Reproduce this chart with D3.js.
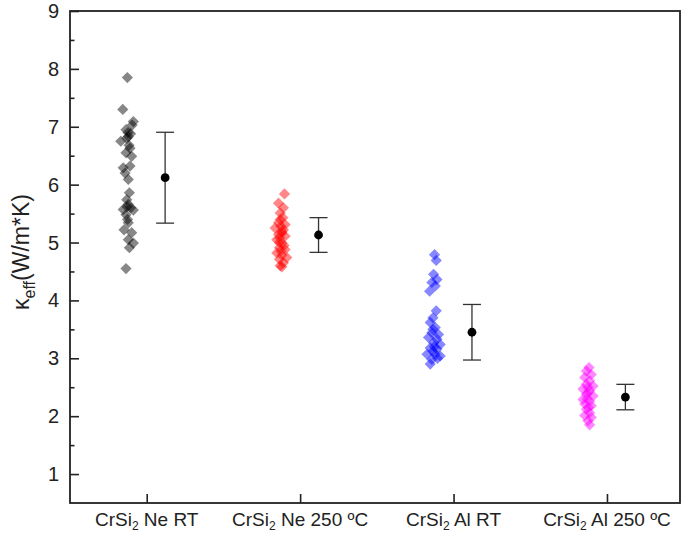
<!DOCTYPE html>
<html><head><meta charset="utf-8">
<script src="https://cdn.jsdelivr.net/npm/d3@7"></script>
<style>body{margin:0;background:#fff}svg{display:block}</style>
</head><body>
<svg id="c" width="685" height="536"></svg>
<script>
// categories (label parts: prefix, subscript, suffix)
const categories = [
  ["CrSi","2"," Ne RT"],
  ["CrSi","2"," Ne 250 ºC"],
  ["CrSi","2"," Al RT"],
  ["CrSi","2"," Al 250 ºC"]
];
const yTicks = [1,2,3,4,5,6,7,8,9];
const seriesColors = ["#000000","#ff0000","#0000ff","#ff00ff"];
// individual measurements: x (category index + jitter), y (kappa)
const neRT_x = [0.874,0.844,0.913,0.905,0.865,0.895,0.880,0.870,0.831,0.885,0.891,0.865,0.902,0.891,0.847,0.859,0.880,0.887,0.870,0.880,0.895,0.847,0.913,0.865,0.875,0.880,0.852,0.902,0.880,0.913,0.887,0.865,0.878,0.872];
const neRT_y = [7.85,7.30,7.09,7.03,6.95,6.88,6.83,6.80,6.75,6.68,6.63,6.55,6.49,6.32,6.29,6.20,6.09,5.86,5.74,5.66,5.60,5.57,5.56,5.48,5.40,5.34,5.22,5.17,5.05,4.99,4.91,4.55,6.90,5.62];
const ne250_x = [1.898,1.859,1.891,1.870,1.887,1.859,1.902,1.837,1.881,1.859,1.902,1.848,1.881,1.865,1.902,1.848,1.881,1.913,1.865,1.891,1.870,1.881,1.870,1.891,1.865,1.895,1.875,1.875,1.880,1.868];
const ne250_y = [5.84,5.68,5.60,5.51,5.43,5.34,5.31,5.25,5.19,5.14,5.11,5.05,4.99,4.91,4.88,4.82,4.78,4.74,4.71,4.65,4.60,4.58,5.40,5.22,5.00,4.95,5.28,4.85,5.16,5.08];
const alRT_x = [2.876,2.887,2.870,2.892,2.859,2.881,2.844,2.887,2.866,2.848,2.881,2.859,2.902,2.837,2.892,2.870,2.913,2.848,2.892,2.827,2.881,2.913,2.859,2.848,2.875,2.865,2.895,2.865];
const alRT_y = [4.79,4.69,4.45,4.36,4.31,4.25,4.16,3.82,3.70,3.62,3.53,3.44,3.41,3.36,3.33,3.27,3.24,3.18,3.16,3.07,3.07,3.04,2.98,2.90,3.20,3.12,3.00,3.50];
const al250_x = [3.883,3.866,3.898,3.855,3.887,3.866,3.909,3.844,3.887,3.866,3.909,3.844,3.887,3.855,3.898,3.866,3.887,3.855,3.898,3.876,3.887,3.876,3.870,3.880,3.876];
const al250_y = [2.84,2.78,2.72,2.67,2.61,2.55,2.52,2.47,2.44,2.38,2.35,2.29,2.26,2.21,2.18,2.12,2.06,2.01,1.98,1.92,1.85,2.40,2.30,2.15,2.50];
// summary: mean and error, plotted at category index + offset
const meanX = [1.12,2.12,3.12,4.12];
const means = [6.12,5.13,3.45,2.33];
const errs  = [0.785,0.30,0.48,0.22];

const series = [[neRT_x,neRT_y],[ne250_x,ne250_y],[alRT_x,alRT_y],[al250_x,al250_y]];

const svg = d3.select("#c");
const L=70, R=680, T=11, B=503;
const x = d3.scaleLinear().domain([0.5,4.476]).range([L,R]);
const y = d3.scaleLinear().domain([0.5,9]).range([B,T]);
const font = "'Liberation Sans', Arial, sans-serif";

// points
const diamond = "M0,-5.6L5.6,0L0,5.6L-5.6,0Z";
series.forEach((s,i)=>{
  svg.append("g").selectAll("path").data(d3.range(s[0].length)).join("path")
    .attr("d",diamond)
    .attr("transform",k=>`translate(${x(s[0][k])},${y(s[1][k])})`)
    .attr("fill",seriesColors[i]).attr("fill-opacity",0.47);
});

// error bars
const eb = svg.append("g").attr("stroke","#333").attr("stroke-width",1.3);
means.forEach((m,i)=>{
  const cx = x(meanX[i]);
  eb.append("line").attr("x1",cx).attr("x2",cx).attr("y1",y(m+errs[i])).attr("y2",y(m-errs[i]));
  eb.append("line").attr("x1",cx-9).attr("x2",cx+9).attr("y1",y(m+errs[i])).attr("y2",y(m+errs[i]));
  eb.append("line").attr("x1",cx-9).attr("x2",cx+9).attr("y1",y(m-errs[i])).attr("y2",y(m-errs[i]));
  svg.append("circle").attr("cx",cx).attr("cy",y(m)).attr("r",4.4).attr("fill","#000");
});

// axes (ticks inward)
const yAx = svg.append("g").attr("transform",`translate(${L},0)`)
  .call(d3.axisRight(y).tickValues(yTicks).tickSize(9).tickFormat(""));
const yMinor = svg.append("g").attr("transform",`translate(${L},0)`)
  .call(d3.axisRight(y).tickValues(d3.range(1.5,9,1)).tickSize(4.5).tickFormat(""));
const xAx = svg.append("g").attr("transform",`translate(0,${B})`)
  .call(d3.axisTop(x).tickValues([1,2,3,4]).tickSize(9).tickFormat(""));
[yAx,yMinor,xAx].forEach(g=>{g.select(".domain").remove();g.selectAll("line").attr("stroke","#222").attr("stroke-width",1.6);});

svg.append("rect").attr("x",L).attr("y",T).attr("width",R-L).attr("height",B-T)
  .attr("fill","none").attr("stroke","#222").attr("stroke-width",1.8);

// y tick labels
svg.append("g").selectAll("text").data(yTicks).join("text")
  .attr("x",L-11).attr("y",d=>y(d)).attr("dy","0.35em").attr("text-anchor","end")
  .attr("font-family",font).attr("font-size",20).attr("fill","#222").text(d=>d);

// x labels
categories.forEach((c,i)=>{
  const t = svg.append("text").attr("x",x(i+1)).attr("y",526).attr("text-anchor","middle")
    .attr("font-family",font).attr("font-size",19).attr("fill","#222");
  t.append("tspan").text(c[0]);
  t.append("tspan").attr("font-size",12).attr("dy",4).text(c[1]);
  t.append("tspan").attr("dy",-4).text(c[2]);
});

// y title
const yt = svg.append("text").attr("transform",`translate(29,252) rotate(-90)`)
  .attr("text-anchor","middle").attr("font-family",font).attr("font-size",23).attr("fill","#222");
yt.append("tspan").text("κ");
yt.append("tspan").attr("font-size",16).attr("dy",6).text("eff");
yt.append("tspan").attr("dy",-6).text("(W/m*K)");
</script>
</body></html>
